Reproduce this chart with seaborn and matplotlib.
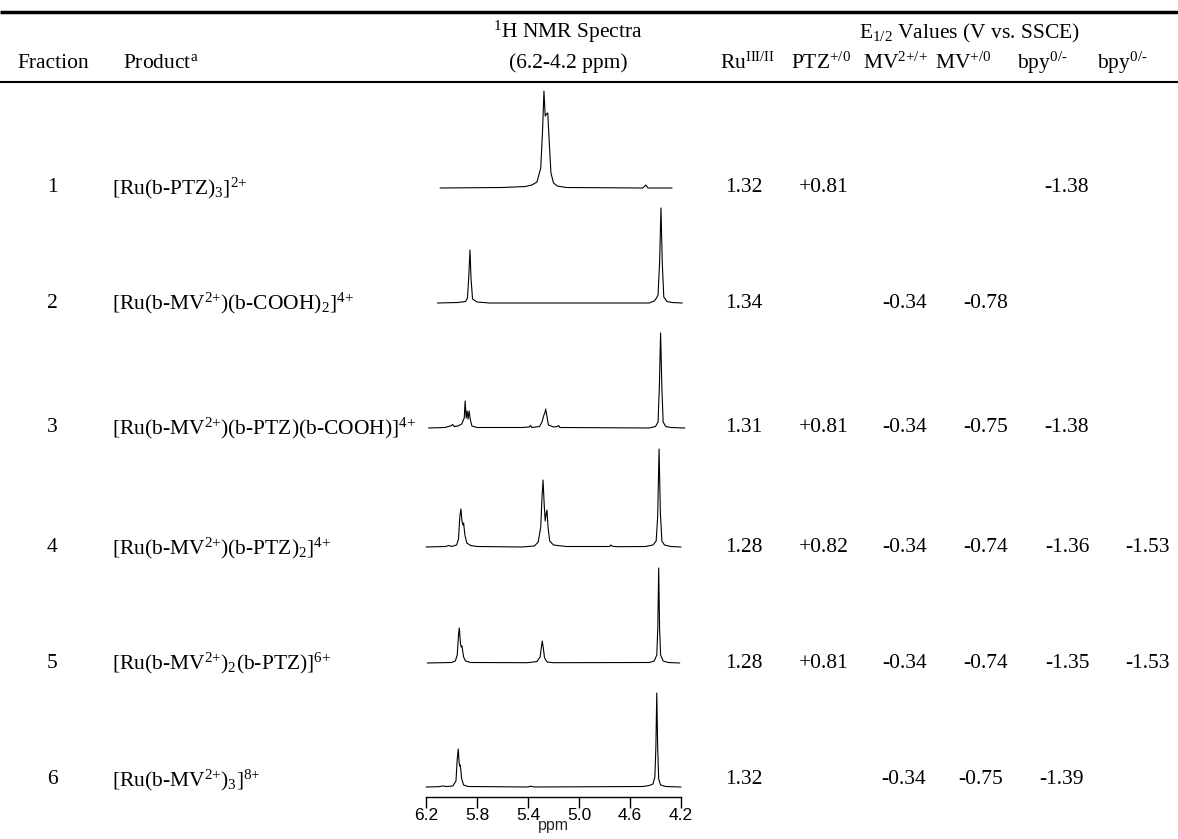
"""Table of Ru complex fractions with 1H NMR spectra insets and E1/2 values."""

import matplotlib

matplotlib.use("Agg")
import matplotlib.pyplot as plt
import pandas as pd
import seaborn as sns

sns.set_theme(style="white")
plt.rcParams["font.family"] = ["Liberation Serif", "DejaVu Serif"]
plt.rcParams["text.color"] = "black"
plt.rcParams["mathtext.fontset"] = "custom"
plt.rcParams["mathtext.rm"] = "Liberation Serif"
plt.rcParams["mathtext.it"] = "Liberation Serif:italic"
plt.rcParams["mathtext.bf"] = "Liberation Serif:bold"

W, H = 1178, 839

FRACTIONS = ["1", "2", "3", "4", "5", "6"]
PRODUCTS = [
    r"[Ru(b-PTZ)$_{3}$]$^{2{+}}$",
    r"[Ru(b-MV$^{2{+}}$)(b-COOH)$_{2}$]$^{4{+}}$",
    r"[Ru(b-MV$^{2{+}}$)(b-PTZ)(b-COOH)]$^{4{+}}$",
    r"[Ru(b-MV$^{2{+}}$)(b-PTZ)$_{2}$]$^{4{+}}$",
    r"[Ru(b-MV$^{2{+}}$)$_{2}$(b-PTZ)]$^{6{+}}$",
    r"[Ru(b-MV$^{2{+}}$)$_{3}$]$^{8{+}}$",
]
RU_III_II = ["1.32", "1.34", "1.31", "1.28", "1.28", "1.32"]
PTZ_OX = ["+0.81", "", "+0.81", "+0.82", "+0.81", ""]
MV_2P = ["", "-0.34", "-0.34", "-0.34", "-0.34", "-0.34"]
MV_1P = ["", "-0.78", "-0.75", "-0.74", "-0.74", "-0.75"]
BPY_1 = ["-1.38", "", "-1.38", "-1.36", "-1.35", "-1.39"]
BPY_2 = ["", "", "", "-1.53", "-1.53", ""]

COL_HEADERS = [
    r"Ru$^{\mathrm{III/II}}$",
    r"PTZ$^{{+}/0}$",
    r"MV$^{2{+}/{+}}$",
    r"MV$^{{+}/0}$",
    r"bpy$^{0/\text{-}}$",
    r"bpy$^{0/\text{-}}$",
]
PPM_TICKS = [6.2, 5.8, 5.4, 5.0, 4.6, 4.2]

# Hand-read spectrum traces: chemical shift (ppm) and intensity (arb., ~pixel units)
SPEC1_PPM = [6.09, 5.60, 5.42, 5.37, 5.33, 5.30, 5.285, 5.275, 5.265, 5.255, 5.245,
             5.235, 5.22, 5.20, 5.17, 5.10, 4.50, 4.475, 4.46, 4.27]
SPEC1_INT = [0, 0.5, 1.5, 3, 6, 20, 60, 97, 72, 74, 75, 50, 15, 5, 2, 0.5, 0, 3, 0, 0]

SPEC2_PPM = [6.11, 5.95, 5.89, 5.875, 5.865, 5.855, 5.847, 5.835, 5.80, 5.70, 4.45,
             4.41, 4.395, 4.38, 4.368, 4.357, 4.347, 4.335, 4.31, 4.27, 4.19]
SPEC2_INT = [0, 0.5, 1.5, 5, 25, 53, 25, 4, 1, 0, 0, 2, 4.5, 8, 40, 95, 40, 6, 1.5, 0.5, 0]

SPEC3_PPM = [6.18, 6.05, 6.00, 5.99, 5.98, 5.95, 5.92, 5.90, 5.893, 5.885, 5.878, 5.87,
             5.862, 5.852, 5.84, 5.80, 5.45, 5.39, 5.38, 5.37, 5.31, 5.29, 5.275, 5.268,
             5.261, 5.252, 5.24, 5.20, 5.17, 5.16, 5.15, 4.45, 4.40, 4.38, 4.37, 4.36,
             4.35, 4.34, 4.32, 4.28, 4.17]
SPEC3_INT = [0, 0.5, 2.5, 3.5, 1.5, 2, 4, 10, 27, 10, 17, 9, 17, 8, 2, 0.5, 0.5, 1, 2.5,
             0.5, 1.5, 6, 13, 15, 19, 12, 3, 1, 1.5, 2.5, 0.5, 0, 1.5, 6, 40, 95, 40, 6,
             1.5, 0.5, 0]

SPEC4_PPM = [6.2, 6.05, 6.02, 6.00, 5.96, 5.945, 5.935, 5.926, 5.918, 5.91, 5.905, 5.895,
             5.88, 5.85, 5.80, 5.45, 5.35, 5.32, 5.30, 5.29, 5.282, 5.272, 5.265, 5.258,
             5.251, 5.243, 5.23, 5.20, 5.10, 4.76, 4.751, 4.74, 4.70, 4.48, 4.42, 4.395,
             4.383, 4.372, 4.362, 4.35, 4.33, 4.28, 4.2]
SPEC4_INT = [0, 0.5, 1.5, 0.5, 2, 8, 30, 38, 26, 22, 24, 12, 4, 1.5, 0.5, 0, 1, 5, 20, 50,
             67, 40, 26, 33, 37, 20, 6, 2, 0.5, 0.5, 2, 0.8, 0.3, 0.5, 2, 6, 30, 98, 35, 6,
             2, 0.5, 0]

SPEC5_PPM = [6.19, 6.00, 5.97, 5.955, 5.945, 5.939, 5.93, 5.924, 5.918, 5.905, 5.89, 5.85,
             5.40, 5.33, 5.305, 5.295, 5.288, 5.28, 5.27, 5.25, 5.20, 4.45, 4.41, 4.39,
             4.382, 4.375, 4.368, 4.36, 4.34, 4.30, 4.21]
SPEC5_INT = [0, 0.5, 2, 8, 28, 35, 20, 16, 17, 6, 2, 0.5, 0.3, 1.5, 6, 16, 22, 15, 5, 1,
             0.3, 0.5, 2, 8, 35, 95, 35, 8, 2, 0.5, 0]

SPEC6_PPM = [6.2, 6.10, 6.07, 6.04, 5.99, 5.965, 5.955, 5.947, 5.94, 5.935, 5.931, 5.92,
             5.905, 5.87, 5.40, 5.38, 5.35, 4.50, 4.45, 4.42, 4.405, 4.397, 4.39, 4.383,
             4.375, 4.36, 4.32, 4.2]
SPEC6_INT = [0, 0.3, 1, 0.5, 1, 6, 28, 38, 24, 21, 22, 8, 2, 0.5, 0, 0.8, 0, 0.5, 1.5, 3,
             10, 40, 94, 40, 8, 2, 0.5, 0]

SPECTRA = [
    (SPEC1_PPM, SPEC1_INT),
    (SPEC2_PPM, SPEC2_INT),
    (SPEC3_PPM, SPEC3_INT),
    (SPEC4_PPM, SPEC4_INT),
    (SPEC5_PPM, SPEC5_INT),
    (SPEC6_PPM, SPEC6_INT),
]

# Layout (pixels from top-left)
ROW_Y = [188, 303, 428, 548, 663, 780]
SPEC_BASE_Y = [188, 303, 428, 547, 663, 787]
VAL_X = [744, 824, 905, 986, 1067, 1147]
LAST_ROW_VAL_X = [744, 824, 904, 981, 1061, 1147]  # last row is slightly shifted left
HDR_X = [748, 821, 895, 963, 1042, 1122]
SPEC_LEFT, SPEC_WIDTH = 426, 255
FS = 15.5

fig = plt.figure(figsize=(W / 100, H / 100), dpi=100)
tbl = fig.add_axes([0, 0, 1, 1])
tbl.set_xlim(0, W)
tbl.set_ylim(H, 0)
tbl.axis("off")

# Rules
tbl.plot([0, W], [12, 12], color="black", lw=2.5, solid_capstyle="butt")
tbl.plot([0, W], [82, 82], color="black", lw=1.5, solid_capstyle="butt")

# Header
tbl.text(53, 63, "Fraction", ha="center", va="center", fontsize=FS)
tbl.text(123, 63, r"Product$^{\mathrm{a}}$", ha="left", va="center", fontsize=FS)
tbl.text(568, 32, r"$^{1}$H NMR Spectra", ha="center", va="center", fontsize=FS)
tbl.text(568, 63, "(6.2-4.2 ppm)", ha="center", va="center", fontsize=FS)
tbl.text(970, 33, r"E$_{1/2}$ Values (V vs. SSCE)", ha="center", va="center", fontsize=FS)
for x, label in zip(HDR_X, COL_HEADERS):
    tbl.text(x, 63, label, ha="center", va="center", fontsize=FS)

# Body rows
value_cols = [RU_III_II, PTZ_OX, MV_2P, MV_1P, BPY_1, BPY_2]
for i, y in enumerate(ROW_Y):
    tbl.text(52, y, FRACTIONS[i], ha="center", va="center", fontsize=FS)
    tbl.text(112, y, PRODUCTS[i], ha="left", va="center", fontsize=FS)
    xs = LAST_ROW_VAL_X if i == len(ROW_Y) - 1 else VAL_X
    for x, col in zip(xs, value_cols):
        if col[i]:
            tbl.text(x, y, col[i], ha="center", va="center", fontsize=FS)

# Spectra
for i, (ppm, inten) in enumerate(SPECTRA):
    base = SPEC_BASE_Y[i]
    ax = fig.add_axes([SPEC_LEFT / W, 1 - (base + 10) / H, SPEC_WIDTH / W, 110 / H])
    ax.patch.set_alpha(0)
    df = pd.DataFrame({"ppm": ppm, "intensity": inten})
    sns.lineplot(data=df, x="ppm", y="intensity", color="black", lw=0.8, ax=ax,
                 estimator=None, sort=False)
    for line in ax.lines:
        line.set_clip_on(False)
    ax.set_xlim(6.2, 4.2)
    ax.set_ylim(-10, 100)
    ax.set_ylabel("")
    ax.set_yticks([])
    for side in ["top", "right", "left"]:
        ax.spines[side].set_visible(False)
    if i < len(SPECTRA) - 1:
        ax.spines["bottom"].set_visible(False)
        ax.set_xticks([])
        ax.set_xlabel("")
    else:
        ax.spines["bottom"].set_color("black")
        ax.spines["bottom"].set_linewidth(1)
        ax.set_xticks(PPM_TICKS)
        ax.set_xticklabels([f"{t:.1f}" for t in PPM_TICKS], family="Liberation Sans",
                           fontsize=12.5)
        ax.tick_params(axis="x", direction="out", length=8, width=1, pad=0,
                       bottom=True, colors="black")
        ax.set_xlabel("ppm", family="Liberation Sans", fontsize=11.5, labelpad=-4)

fig.savefig("out.png", dpi=100)
